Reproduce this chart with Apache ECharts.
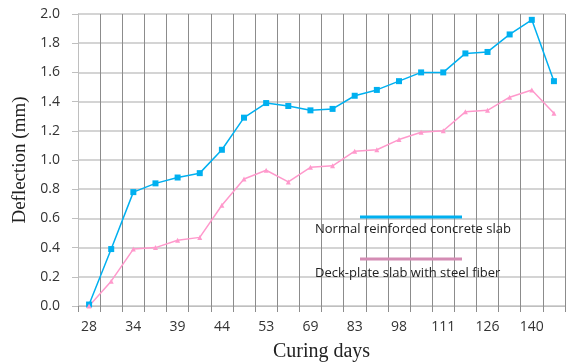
<!DOCTYPE html>
<html>
<head>
<meta charset="utf-8">
<script src="https://cdn.jsdelivr.net/npm/echarts@6/dist/echarts.min.js"></script>
<style>html,body{margin:0;padding:0;background:#fff;}#c{width:567px;height:363px;}</style>
</head>
<body>
<div id="c"></div>
<script>
const curingDays = ['28','31','34','36','39','41','44','48','53','62','69','76','83','90','98','104','111','118','126','133','140','147'];
const normalSlab = [0.01,0.39,0.78,0.84,0.88,0.91,1.07,1.29,1.39,1.37,1.34,1.35,1.44,1.48,1.54,1.60,1.60,1.73,1.74,1.86,1.96,1.54];
const deckSlab = [0.00,0.17,0.39,0.40,0.45,0.47,0.69,0.87,0.93,0.85,0.95,0.96,1.06,1.07,1.14,1.19,1.20,1.33,1.34,1.43,1.48,1.32];
const seriesNames = ['Normal reinforced concrete slab','Deck-plate slab with steel fiber'];
const blue = '#00b0f0', pink = '#ff99cc';

const chart = echarts.init(document.getElementById('c'));
chart.setOption({
  animation: false,
  grid: {left: 78, right: 2, top: 14, bottom: 57, containLabel: false, outerBoundsMode: 'none'},
  xAxis: {
    type: 'category', data: curingDays, boundaryGap: true,
    name: 'Curing days', nameLocation: 'middle', nameGap: 36,
    nameTextStyle: {fontFamily: 'Liberation Serif', fontSize: 20, color: '#222'},
    axisLine: {lineStyle: {color: '#bfbfbf', width: 1}},
    axisTick: {show: true, interval: 0, length: 6, lineStyle: {color: '#8c8c8c'}},
    axisLabel: {interval: 1, fontFamily: 'Open Sans', fontSize: 14, color: '#333', margin: 14},
    splitLine: {show: true, interval: 0, lineStyle: {color: '#8c8c8c', width: 1}}
  },
  yAxis: {
    type: 'value', min: 0, max: 2, interval: 0.2,
    name: 'Deflection (mm)', nameLocation: 'middle', nameGap: 45,
    nameTextStyle: {fontFamily: 'Liberation Serif', fontSize: 19, color: '#222'},
    axisLine: {show: true, lineStyle: {color: '#bfbfbf'}},
    axisTick: {show: true, length: 6, lineStyle: {color: '#bfbfbf'}},
    axisLabel: {fontFamily: 'Open Sans', fontSize: 14, color: '#333', margin: 18,
      formatter: v => v.toFixed(1)},
    splitLine: {show: true, lineStyle: {color: '#d4d4d4', width: 2}}
  },
  series: [
    {name: seriesNames[0], type: 'line', data: normalSlab, symbol: 'rect', symbolSize: 6,
      lineStyle: {color: blue, width: 1.5}, itemStyle: {color: blue}},
    {name: seriesNames[1], type: 'line', data: deckSlab, symbol: 'triangle', symbolSize: 5,
      lineStyle: {color: pink, width: 1.5}, itemStyle: {color: pink}}
  ],
  graphic: [
    {type: 'line', z: 100, shape: {x1: 360, y1: 217, x2: 462, y2: 217}, style: {stroke: blue, lineWidth: 3}},
    {type: 'text', z: 100, left: 315, top: 223, style: {text: seriesNames[0], font: '13px "Open Sans"', fill: '#222'}},
    {type: 'line', z: 100, shape: {x1: 360, y1: 259, x2: 462, y2: 259}, style: {stroke: '#d48cb4', lineWidth: 3}},
    {type: 'text', z: 100, left: 315, top: 267, style: {text: seriesNames[1], font: '13px "Open Sans"', fill: '#222'}}
  ]
});
</script>
</body>
</html>
